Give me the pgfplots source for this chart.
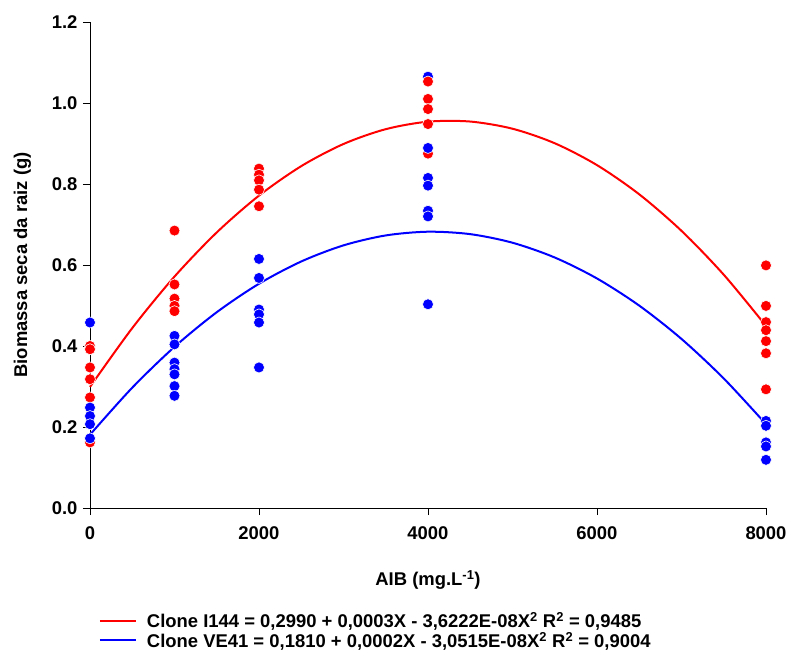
\documentclass[border=0pt]{standalone}
\usepackage{fontspec}
\setmainfont{Liberation Sans}
\usepackage{pgfplots}
\pgfplotsset{compat=1.18}
\definecolor{cred}{RGB}{255,0,0}
\definecolor{cblue}{RGB}{0,0,255}
\begin{document}
\begin{tikzpicture}
\useasboundingbox (-90bp,-145bp) rectangle (697bp,508bp);
\begin{axis}[
  scale only axis,
  width=676bp, height=486bp,
  xmin=0, xmax=8000, ymin=0, ymax=1.2,
  axis lines*=left,
  axis line style={line width=0.9bp},
  clip=false,
  xtick={0,2000,4000,6000,8000},
  ytick={0,0.2,0.4,0.6,0.8,1.0,1.2},
  tick align=outside,
  major tick length=7bp,
  every tick/.style={line width=0.9bp,black},
  /pgf/number format/assume math mode=true,
  /pgf/number format/1000 sep={},
  yticklabel style={/pgf/number format/fixed,/pgf/number format/precision=1,/pgf/number format/fixed zerofill, xshift=-2bp},
  xticklabel style={yshift=-8bp},
  tick label style={font=\fontsize{18.5}{20}\selectfont\bfseries},
  label style={font=\fontsize{18.5}{20}\selectfont\bfseries},
  xlabel={AIB (mg.L\textsuperscript{-1})},
  ylabel={Biomassa seca da raiz (g)},
  xlabel style={at={(axis description cs:0.5,-0.148)}, anchor=center},
  ylabel style={at={(axis description cs:-0.1,0.5)}, anchor=center},
  legend style={at={(axis description cs:0.013,-0.21)}, anchor=north west, draw=none, fill=none,
    font=\fontsize{18.5}{20}\selectfont\bfseries, row sep=-1bp, inner sep=0pt,
    nodes={inner sep=2bp}},
  legend cell align=left,
  legend image code/.code={\draw[#1,mark=none] (0bp,0bp) -- (36bp,0bp);},
]
% fitted curves
\addplot[cred, line width=2bp, smooth] coordinates {
(0,0.2990) (500,0.4442) (1000,0.5714) (1500,0.6804) (2000,0.7713) (2500,0.8441)
(3000,0.8988) (3500,0.9354) (4000,0.9539) (4500,0.9542) (5000,0.9365) (5500,0.9006)
(6000,0.8466) (6500,0.7745) (7000,0.6843) (7500,0.5760) (8000,0.4496)};
\addlegendentry{\hspace{8bp}Clone I144 = 0,2990 + 0,0003X - 3,6222E-08X\textsuperscript{2} R\textsuperscript{2} = 0,9485}
\addplot[cblue, line width=2bp, smooth] coordinates {
(0,0.1810) (500,0.2971) (1000,0.3979) (1500,0.4834) (2000,0.5537) (2500,0.6087)
(3000,0.6485) (3500,0.6730) (4000,0.6822) (4500,0.6762) (5000,0.6550) (5500,0.6185)
(6000,0.5667) (6500,0.4997) (7000,0.4174) (7500,0.3198) (8000,0.2070)};
\addlegendentry{\hspace{8bp}Clone VE41 = 0,1810 + 0,0002X - 3,0515E-08X\textsuperscript{2} R\textsuperscript{2} = 0,9004}
% observed points
\addplot[only marks, mark=*, mark size=5.5bp, mark options={fill=cblue, draw=white, line width=0.6bp}, forget plot] coordinates {
(4000,1.065)};
\addplot[only marks, mark=*, mark size=5.5bp, mark options={fill=cred, draw=white, line width=0.6bp}, forget plot] coordinates {
(0,0.400) (0,0.392) (0,0.347) (0,0.318) (0,0.273) (0,0.162)
(1000,0.685) (1000,0.552) (1000,0.517) (1000,0.499) (1000,0.486)
(2000,0.838) (2000,0.823) (2000,0.809) (2000,0.786) (2000,0.745)
(4000,1.053) (4000,1.010) (4000,0.985) (4000,0.948) (4000,0.875)
(8000,0.599) (8000,0.499) (8000,0.459) (8000,0.439) (8000,0.412) (8000,0.382) (8000,0.293)};
\addplot[only marks, mark=*, mark size=5.5bp, mark options={fill=cblue, draw=white, line width=0.6bp}, forget plot] coordinates {
(0,0.458) (0,0.248) (0,0.227) (0,0.207) (0,0.172)
(1000,0.425) (1000,0.404) (1000,0.359) (1000,0.343) (1000,0.330) (1000,0.301) (1000,0.277)
(2000,0.615) (2000,0.568) (2000,0.490) (2000,0.478) (2000,0.458) (2000,0.347)
(4000,0.889) (4000,0.815) (4000,0.796) (4000,0.734) (4000,0.720) (4000,0.503)
(8000,0.215) (8000,0.203) (8000,0.162) (8000,0.152) (8000,0.119)};
\end{axis}
\end{tikzpicture}
\end{document}
